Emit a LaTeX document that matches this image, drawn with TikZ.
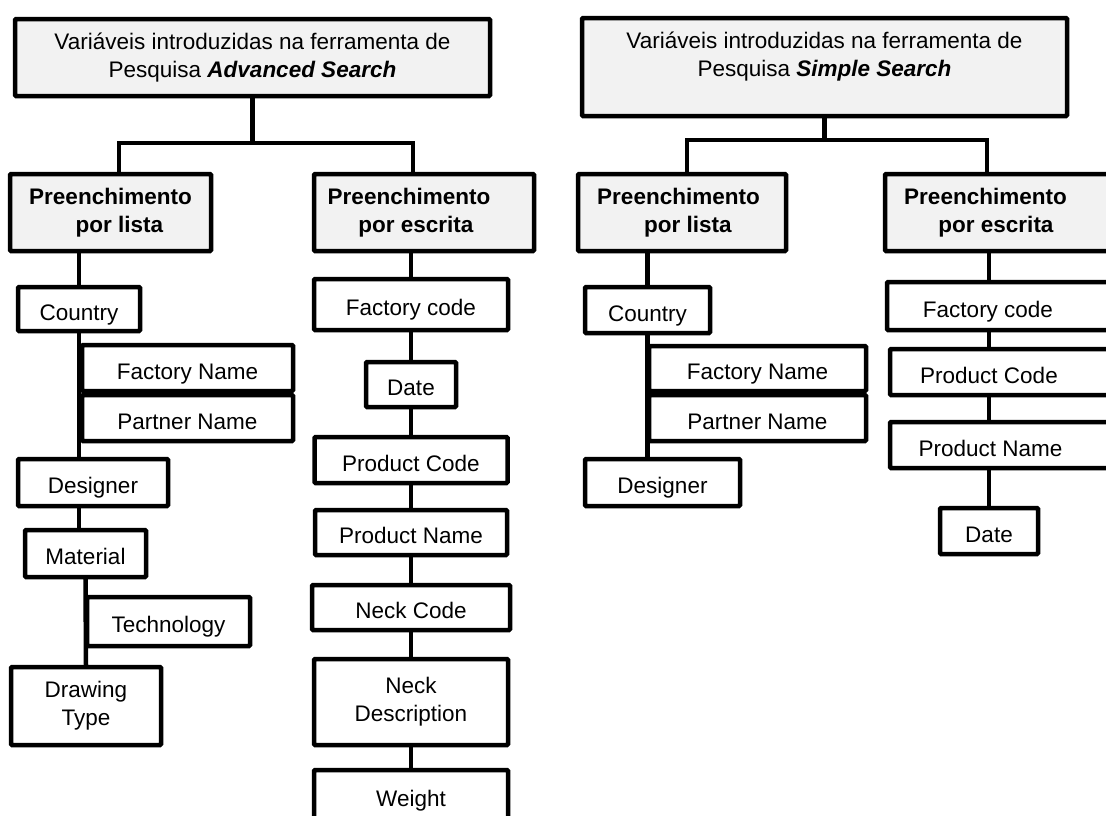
\documentclass[tikz,border=0pt]{standalone}
\usepackage{fontspec}
\setmainfont{Liberation Sans}
\definecolor{hdrgray}{HTML}{F2F2F2}
\begin{document}
\begin{tikzpicture}[x=1pt,y=-1pt,
  box/.style={draw, line width=4.5pt, fill=white, inner sep=2pt, align=center,
    font=\fontsize{22.5}{28}\selectfont, rounded corners=1pt},
  one/.style={box, text height=22pt, text depth=0pt},
  hdr/.style={box, fill=hdrgray},
  sub/.style={hdr, font=\fontsize{22.5}{28}\selectfont\bfseries},
  sz/.style 2 args={minimum width=#1pt, minimum height=#2pt},
  conn/.style={line width=4.5pt, line cap=rect}]
\useasboundingbox (0,0) rectangle (1106,815);
\clip (0,0) rectangle (1106,815);
\newcommand{\pad}[1]{\rule{#1pt}{0pt}}

% ---------- Advanced Search ----------
\node[hdr, sz={475}{77}] (Atop) at (252.5,57.5)
  {Variáveis introduzidas na ferramenta de\\ Pesquisa \textbf{\textit{Advanced Search}}};
\node[sub, sz={201}{77}] (Alista) at (110.5,212.5) {Preenchimento\\ \pad{18}por lista};
\node[sub, sz={220}{77}] (Aescr) at (424,212.5) {Preenchimento\pad{30}\\ por escrita\pad{16}};

\node[one, sz={122}{44}] (Acountry) at (79,309) {Country};
\node[one, sz={211}{46}] (Afname) at (187.5,368) {Factory Name};
\node[one, sz={211}{46}] (Apname) at (187.5,418) {Partner Name};
\node[one, sz={150}{47}] (Adesigner) at (93,482.5) {Designer};
\node[one, sz={121}{47}] (Amaterial) at (85.5,553.5) {Material};
\node[one, sz={163}{49}] (Atech) at (168.5,621.5) {Technology};
\node[box, sz={150}{78}] (Adrawing) at (86,706) {Drawing\\ Type};

\node[one, sz={194}{51}] (Afcode) at (411,304.5) {Factory code};
\node[one, sz={90}{45}] (Adate) at (411,384.5) {Date};
\node[one, sz={193}{46}] (Apcode) at (411,460) {Product Code};
\node[one, sz={192}{45}] (Apname2) at (411,532.5) {Product Name};
\node[one, sz={198}{45}] (Ancode) at (411,607.5) {Neck Code};
\node[box, sz={194}{86}] (Andesc) at (411,702) {Neck\\ Description};
\node[one, sz={194}{50}] (Aweight) at (411,795) {Weight};

\coordinate (Abus) at (252.5,143);
\coordinate (Abl) at (119,143);
\coordinate (Abr) at (413,143);
\draw[conn] (Atop.south) -- (Abus);
\draw[conn] (Abl |- Alista.north) -- (Abl) -- (Abr) -- (Abr |- Aescr.north);

\draw[conn] (Acountry.north |- Alista.south) -- (Acountry.north);
\draw[conn] (Acountry.south) -- (Acountry.south |- Adesigner.north);
\draw[conn] (Acountry.south |- Adesigner.south) -- (Acountry.south |- Amaterial.north);
\draw[conn] (Amaterial.south) -- (Adrawing.north);

\draw[conn] (Afcode.north |- Aescr.south) -- (Afcode.north);
\draw[conn] (Afcode.south) -- (Adate.north);
\draw[conn] (Adate.south) -- (Apcode.north);
\draw[conn] (Apcode.south) -- (Apname2.north);
\draw[conn] (Apname2.south) -- (Ancode.north);
\draw[conn] (Ancode.south) -- (Andesc.north);
\draw[conn] (Andesc.south) -- (Aweight.north);

% ---------- Simple Search ----------
\node[hdr, sz={485}{98}] (Stop) at (824.5,67)
  {Variáveis introduzidas na ferramenta de\\ Pesquisa \textbf{\textit{Simple Search}}\\[-10pt] \strut};
\node[sub, sz={208}{77}] (Slista) at (682,212.5) {Preenchimento\pad{7}\\ \pad{12}por lista};
\node[sub, sz={238}{77}] (Sescr) at (1004,212.5) {Preenchimento\pad{37}\\ por escrita\pad{16}};

\node[one, sz={125}{46}] (Scountry) at (647.5,310) {Country};
\node[one, sz={217}{45}] (Sfname) at (757.5,368.5) {Factory Name};
\node[one, sz={217}{46}] (Spname) at (757.5,418) {Partner Name};
\node[one, sz={155}{47}] (Sdesigner) at (662.5,482.5) {Designer};

\node[one, sz={236}{48}] (Sfcode) at (1005,306) {Factory code\pad{34}};
\node[one, sz={233}{46}] (Spcode) at (1006.5,372) {Product Code\pad{35}};
\node[one, sz={233}{46}] (Spname2) at (1006.5,445) {Product Name\pad{32}};
\node[one, sz={98}{46}] (Sdate) at (989,531) {Date};

\coordinate (Sbus) at (824.5,140);
\coordinate (Sbl) at (687,140);
\coordinate (Sbr) at (987,140);
\draw[conn] (Stop.south) -- (Sbus);
\draw[conn] (Sbl |- Slista.north) -- (Sbl) -- (Sbr) -- (Sbr |- Sescr.north);

\draw[conn] (Scountry.north |- Slista.south) -- (Scountry.north);
\draw[conn] (Scountry.south) -- (Scountry.south |- Sdesigner.north);

\draw[conn] (Sdate.north |- Sescr.south) -- (Sdate.north |- Sfcode.north);
\draw[conn] (Sdate.north |- Sfcode.south) -- (Sdate.north |- Spcode.north);
\draw[conn] (Sdate.north |- Spcode.south) -- (Sdate.north |- Spname2.north);
\draw[conn] (Sdate.north |- Spname2.south) -- (Sdate.north);
\end{tikzpicture}
\end{document}
